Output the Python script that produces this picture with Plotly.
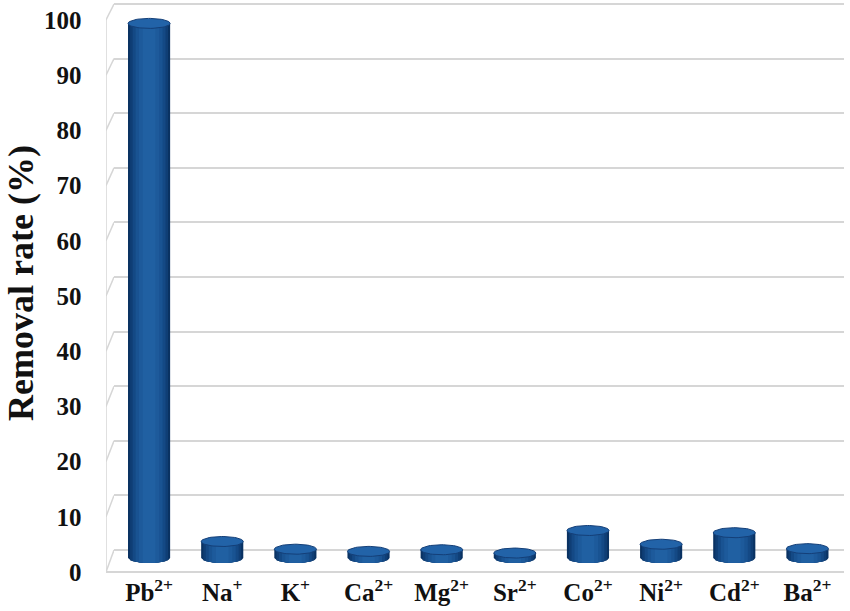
import numpy as np
import plotly.graph_objects as go

# ---------------- data ----------------
ions = ["Pb<sup>2+</sup>", "Na<sup>+</sup>", "K<sup>+</sup>", "Ca<sup>2+</sup>", "Mg<sup>2+</sup>",
        "Sr<sup>2+</sup>", "Co<sup>2+</sup>", "Ni<sup>2+</sup>", "Cd<sup>2+</sup>", "Ba<sup>2+</sup>"]
removal = [97.2, 3.0, 1.6, 1.2, 1.5, 0.9, 5.0, 2.5, 4.6, 1.7]
y_ticks = [0, 10, 20, 30, 40, 50, 60, 70, 80, 90, 100]

# ---------------- geometry ----------------
W, H = 850, 611
M_L, M_R, M_T, M_B = 100, 6, 0, 36
PLOT_H = H - M_T - M_B
PLOT_W = W - M_L - M_R


def axis_range(zero_px, px_per_unit):
    lo = -(PLOT_H - zero_px) / px_per_unit
    return [lo, lo + PLOT_H / px_per_unit]


FRONT = (572, 5.52)   # tick-label plane
BACK = (550, 5.46)    # back wall (gridlines)
BARS = (558, 5.5)     # bar plane

front_rng = axis_range(*FRONT)
back_rng = axis_range(*BACK)
bar_rng = axis_range(*BARS)

x_dom0 = (112.5 - M_L) / PLOT_W
wall_dom = [(106 - M_L) / PLOT_W, (114 - M_L) / PLOT_W]

A = 0.288                 # cylinder half-width (category units)
B = 5.0 / BARS[1]         # ellipse half-height (value units)

strip_frac = [1.0, 0.9, 0.78, 0.64, 0.48, 0.3]
strip_cols = ["#0a3262", "#0f3e75", "#144985", "#195392", "#1d5a9b", "#2060a2"]

fig = go.Figure()

# invisible traces so the main subplot and back-wall axis exist
fig.add_trace(go.Scatter(x=[0], y=[0], xaxis="x", yaxis="y", mode="markers",
                         marker=dict(opacity=0), hoverinfo="skip", showlegend=False))
fig.add_trace(go.Scatter(x=[0], y=[0], xaxis="x", yaxis="y2", mode="markers",
                         marker=dict(opacity=0), hoverinfo="skip", showlegend=False))

# side wall (3D perspective) lines
wx, wy = [], []
for v in y_ticks:
    back_px = BACK[0] - BACK[1] * v
    v_front_units = (FRONT[0] - back_px) / FRONT[1]
    wx += [0, 1, None]
    wy += [v, v_front_units, None]
wx += [0, 0, None]
wy += [0, 100, None]
fig.add_trace(go.Scatter(x=wx, y=wy, xaxis="x2", yaxis="y", mode="lines",
                         line=dict(color="#d6d6d6", width=1.5), hoverinfo="skip",
                         showlegend=False))

# cylinder bodies (shaded strips)
for f, col in zip(strip_frac, strip_cols):
    xs, ys = [], []
    for i, v in enumerate(removal):
        dx = np.linspace(-f * A, f * A, 30)
        yb = -B * np.sqrt(np.clip(1 - (dx / A) ** 2, 0, 1))
        xs += list(i + dx) + [i + f * A, i - f * A, None]
        ys += list(yb) + [v, v, None]
    fig.add_trace(go.Scatter(x=xs, y=ys, xaxis="x", yaxis="y3", mode="lines",
                             fill="toself", fillcolor=col, line=dict(width=0, color=col),
                             hoverinfo="skip", showlegend=False))

# cylinder tops
t = np.linspace(0, 2 * np.pi, 60)
xs, ys = [], []
for i, v in enumerate(removal):
    xs += list(i + A * np.cos(t)) + [None]
    ys += list(v + B * np.sin(t)) + [None]
fig.add_trace(go.Scatter(x=xs, y=ys, xaxis="x", yaxis="y3", mode="lines",
                         fill="toself", fillcolor="#2263a8",
                         line=dict(width=1, color="#143f78"),
                         hoverinfo="skip", showlegend=False))

tick_font = dict(family="Liberation Serif", size=25, color="#111111", weight="bold")

fig.update_layout(
    width=W, height=H,
    margin=dict(l=M_L, r=M_R, t=M_T, b=M_B, autoexpand=False),
    paper_bgcolor="white", plot_bgcolor="white",
    xaxis=dict(domain=[x_dom0, 1], range=[-0.5, 9.5], tickmode="array",
               tickvals=list(range(len(ions))), ticktext=ions, tickfont=tick_font,
               showgrid=False, zeroline=False, showline=False, ticks=""),
    xaxis2=dict(domain=wall_dom, range=[0, 1], visible=False, anchor="y"),
    yaxis=dict(range=front_rng, tickmode="array", tickvals=y_ticks, tickfont=tick_font,
               showgrid=False, zeroline=True, zerolinecolor="#d6d6d6", zerolinewidth=1.5,
               showline=False, ticks="", ticklabelstandoff=30, anchor="x"),
    yaxis2=dict(range=back_rng, overlaying="y", anchor="x", showticklabels=False,
                tickmode="array", tickvals=y_ticks, showgrid=True, gridcolor="#d6d6d6",
                gridwidth=1.5, zeroline=False, ticks="", showline=False),
    yaxis3=dict(range=bar_rng, overlaying="y", anchor="x", visible=False),
    annotations=[dict(text="Removal rate (%)", textangle=-90, xref="paper", yref="paper",
                      x=(21 - M_L) / PLOT_W, y=1 - 283 / PLOT_H, xanchor="center",
                      yanchor="middle", showarrow=False,
                      font=dict(family="Liberation Serif", size=36, color="#111111",
                                weight="bold"))],
)

fig.write_html("out.html", config={"displayModeBar": False},
               post_script="document.body.style.margin='0px';")
